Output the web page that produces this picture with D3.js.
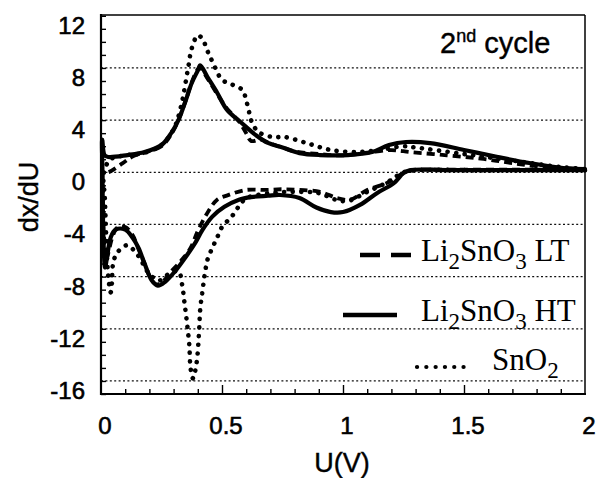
<!DOCTYPE html>
<html>
<head>
<meta charset="utf-8">
<script src="https://cdn.jsdelivr.net/npm/d3@7"></script>
<style>
  body { margin: 0; background: #fff; }
  text { fill: #000; }
</style>
</head>
<body>
<svg id="chart" width="599" height="478"></svg>
<script>
// values: [U (V), dx/dU]
// Li2SnO3 HT (solid) - discharge branch goes 2 -> 0, charge branch 0 -> 2
const htLower = [[2.0,0.17],[1.7,0.17],[1.43,0.17],[1.28,0.17],[1.25,-0.06],[1.21,-0.83],[1.14,-1.6],[1.07,-2.5],
  [1.0,-3.05],[0.95,-3.05],[0.89,-2.7],[0.82,-1.97],[0.74,-1.74],[0.69,-1.8],[0.62,-1.9],[0.57,-2.1],[0.51,-2.65],
  [0.46,-3.4],[0.42,-4.4],[0.39,-5.4],[0.35,-6.5],[0.31,-7.5],[0.265,-8.4],[0.235,-8.7],[0.21,-8.3],[0.18,-7.0],
  [0.155,-5.8],[0.13,-5.0],[0.10,-4.4],[0.06,-4.4],[0.04,-5.0],[0.025,-6.5],[0.017,-7.3],[0.01,-5.0],[0.006,0],[0.005,2.5]];
const htUpper = [[0.005,2.5],[0.015,1.3],[0.03,1.17],[0.11,1.32],[0.18,1.55],[0.25,2.09],[0.29,3.0],[0.32,4.0],
  [0.35,5.5],[0.375,6.85],[0.40,7.8],[0.41,8.2],[0.44,7.3],[0.48,6.1],[0.52,4.8],[0.58,3.8],[0.64,2.85],[0.69,2.25],
  [0.75,1.9],[0.82,1.47],[0.905,1.32],[1.02,1.32],[1.12,1.55],[1.19,2.09],[1.26,2.32],[1.36,2.24],[1.50,1.71],
  [1.64,1.17],[1.77,0.71],[1.91,0.33],[2.0,0.25]];

// Li2SnO3 LT (dashed)
const ltLower = [[2.0,0.2],[1.7,0.2],[1.4,0.2],[1.28,0.15],[1.25,-0.06],[1.18,-0.83],[1.10,-1.36],[1.03,-2.1],
  [0.975,-1.97],[0.905,-1.5],[0.82,-1.35],[0.75,-1.3],[0.68,-1.35],[0.60,-1.35],[0.525,-1.75],[0.48,-2.1],[0.44,-3.1],
  [0.40,-4.5],[0.37,-5.8],[0.33,-6.8],[0.29,-7.6],[0.26,-8.3],[0.23,-8.6],[0.21,-8.3],[0.18,-7.0],[0.155,-5.9],
  [0.13,-4.8],[0.10,-4.2],[0.07,-4.2],[0.05,-4.8],[0.03,-6.2],[0.02,-6.8],[0.012,-5.0],[0.008,-1.5],[0.01,0]];
const ltUpper = [[0.01,0],[0.03,0],[0.09,0.7],[0.13,1.2],[0.18,1.5],[0.25,2.0],[0.29,2.9],[0.32,4.0],[0.35,5.5],
  [0.375,6.9],[0.40,7.9],[0.41,8.0],[0.44,7.2],[0.48,6.0],[0.52,4.9],[0.57,3.9],[0.60,3.0],[0.62,2.4],[0.66,2.5],
  [0.70,2.2],[0.75,1.9],[0.80,1.6],[0.90,1.4],[1.0,1.3],[1.10,1.5],[1.20,1.7],[1.28,1.55],[1.43,1.3],[1.57,1.05],
  [1.70,0.7],[1.84,0.4],[2.0,0.25]];

// SnO2 (dotted)
const snLower = [[2.0,0.15],[1.6,0.15],[1.3,0.15],[1.25,0],[1.18,-0.8],[1.10,-1.5],[1.02,-2.2],[0.97,-2.1],
  [0.90,-1.6],[0.80,-1.5],[0.70,-1.6],[0.60,-2.0],[0.57,-2.6],[0.54,-3.4],[0.50,-4.2],[0.48,-5.0],[0.46,-5.8],
  [0.44,-6.7],[0.43,-7.7],[0.42,-9.0],[0.41,-10.5],[0.405,-12.3],[0.395,-14.6],[0.38,-15.8],[0.37,-15.0],
  [0.365,-13.3],[0.355,-11.5],[0.345,-10.0],[0.335,-8.6],[0.32,-7.6],[0.28,-7.8],[0.24,-8.3],[0.20,-7.8],
  [0.15,-6.3],[0.107,-5.6],[0.066,-6.2],[0.05,-7.0],[0.045,-8.5],[0.04,-9.2],[0.03,-8.0],[0.016,-2.0],[0.012,0]];
const snUpper = [[0.012,0],[0.04,1.0],[0.10,1.3],[0.18,1.5],[0.25,2.1],[0.30,3.3],[0.33,5.0],[0.36,8.0],
  [0.375,9.5],[0.40,10.5],[0.42,10.2],[0.44,9.3],[0.46,8.5],[0.50,7.1],[0.545,6.7],[0.585,6.3],[0.60,5.5],
  [0.61,4.8],[0.62,4.0],[0.65,3.1],[0.71,2.7],[0.76,2.7],[0.85,2.24],[0.95,1.71],[1.06,1.55],[1.15,1.71],
  [1.25,2.0],[1.30,1.9],[1.50,1.4],[1.70,0.9],[1.90,0.4],[2.0,0.25]];

const yTickLabels = [12, 8, 4, 0, -4, -8, -12, -16];
const yGridValues = [8, 4, 0, -4, -8, -12, -16];
const xTickLabels = [0, 0.5, 1, 1.5, 2];

const svg = d3.select("#chart");

const x = d3.scaleLinear().domain([0, 2]).range([101, 585]);
const y = d3.scaleLinear().domain([-17, 12.06]).range([394, 15]);

// dotted grid lines
svg.append("g").selectAll("line")
  .data(yGridValues)
  .enter().append("line")
  .attr("x1", x(0)).attr("x2", x(2))
  .attr("y1", d => y(d)).attr("y2", d => y(d))
  .attr("stroke", "#111").attr("stroke-width", 1.2)
  .attr("stroke-dasharray", "2,2.4");

// inward ticks, every 1 on y, every 0.1 on x
const yAxis = d3.axisLeft(y).tickValues(d3.range(-17, 13)).tickSize(-5).tickFormat("");
svg.append("g").attr("transform", `translate(${x(0)},0)`).call(yAxis)
  .call(g => g.select(".domain").remove())
  .selectAll("line").attr("stroke", "#000").attr("stroke-width", 1.4);

const xMinor = d3.range(1, 20).map(i => i / 10).filter(v => Math.abs(v * 2 - Math.round(v * 2)) > 1e-6);
svg.append("g").attr("transform", `translate(0,${y(-17)})`)
  .call(d3.axisBottom(x).tickValues(xMinor).tickSize(-5).tickFormat(""))
  .call(g => g.select(".domain").remove())
  .selectAll("line").attr("stroke", "#000").attr("stroke-width", 1.4);
svg.append("g").attr("transform", `translate(0,${y(-17)})`)
  .call(d3.axisBottom(x).tickValues([0.5, 1, 1.5]).tickSize(-9).tickFormat(""))
  .call(g => g.select(".domain").remove())
  .selectAll("line").attr("stroke", "#000").attr("stroke-width", 1.4);

// curves
const line = d3.line()
  .x(d => x(d[0]))
  .y(d => y(d[1]))
  .curve(d3.curveCatmullRom.alpha(0.5));

const series = [
  { name: "SnO2", pts: snLower.concat(snUpper.slice(1)), dash: "0.1,8.5", width: 4.6, cap: "round" },
  { name: "LT", pts: ltLower.concat(ltUpper.slice(1)), dash: "8,5", width: 3.8, cap: "butt" },
  { name: "HT", pts: htLower.concat(htUpper.slice(1)), dash: null, width: 4.2, cap: "round" }
];

svg.append("g").selectAll("path")
  .data(series)
  .enter().append("path")
  .attr("d", d => line(d.pts))
  .attr("fill", "none")
  .attr("stroke", "#000")
  .attr("stroke-width", d => d.width)
  .attr("stroke-linecap", d => d.cap)
  .attr("stroke-linejoin", "round")
  .attr("stroke-dasharray", d => d.dash);

// frame
svg.append("line").attr("x1", x(0)).attr("x2", x(2)).attr("y1", y(12.06)).attr("y2", y(12.06))
  .attr("stroke", "#000").attr("stroke-width", 1.5);
svg.append("line").attr("x1", x(2)).attr("x2", x(2)).attr("y1", y(12.06)).attr("y2", y(-17))
  .attr("stroke", "#000").attr("stroke-width", 1.5);
svg.append("line").attr("x1", x(0)).attr("x2", x(0)).attr("y1", y(12.06) - 1).attr("y2", y(-17) + 1)
  .attr("stroke", "#000").attr("stroke-width", 2.2);
svg.append("line").attr("x1", x(0) - 1).attr("x2", x(2) + 1).attr("y1", y(-17)).attr("y2", y(-17))
  .attr("stroke", "#000").attr("stroke-width", 2.2);

// tick labels (a thin stroke thickens the glyphs like the scanned original)
const sans = "Arial, 'Liberation Sans', Helvetica, sans-serif";
svg.append("g").selectAll("text")
  .data(yTickLabels)
  .enter().append("text")
  .attr("x", 85)
  .attr("y", d => y(d) + 18)
  .attr("text-anchor", "end")
  .attr("font-family", sans)
  .attr("font-size", 24)
  .attr("stroke", "#000").attr("stroke-width", 0.6)
  .text(d => d);

svg.append("g").selectAll("text")
  .data(xTickLabels)
  .enter().append("text")
  .attr("x", d => x(d) + 4)
  .attr("y", 434)
  .attr("text-anchor", "middle")
  .attr("font-family", sans)
  .attr("font-size", 24)
  .attr("stroke", "#000").attr("stroke-width", 0.6)
  .text(d => d);

// axis titles
svg.append("text")
  .attr("x", 342).attr("y", 472)
  .attr("text-anchor", "middle")
  .attr("font-family", sans).attr("font-size", 27)
  .attr("stroke", "#000").attr("stroke-width", 0.4)
  .text("U(V)");
svg.append("text")
  .attr("transform", "translate(38,197) rotate(-90)")
  .attr("text-anchor", "middle")
  .attr("font-family", sans).attr("font-size", 27)
  .attr("stroke", "#000").attr("stroke-width", 0.4)
  .text("dx/dU");

// "2nd cycle"
const cyc = svg.append("text")
  .attr("x", 440).attr("y", 53)
  .attr("font-family", sans).attr("font-size", 29)
  .attr("stroke", "#000").attr("stroke-width", 0.4);
cyc.append("tspan").text("2");
cyc.append("tspan").attr("font-size", 18).attr("dy", -11).text("nd");
cyc.append("tspan").attr("dy", 11).text(" cycle");

// legend
const serif = "'Times New Roman', 'Liberation Serif', Times, serif";
function formula(g, xPos, yPos, parts) {
  const t = g.append("text").attr("x", xPos).attr("y", yPos)
    .attr("font-family", serif).attr("font-size", 31);
  let shift = 0;
  parts.forEach(p => {
    const target = p.sub ? 8 : 0;
    t.append("tspan")
      .attr("dy", target - shift)
      .attr("font-size", p.sub ? 23 : null)
      .text(p.s);
    shift = target;
  });
}
const legend = svg.append("g");
legend.append("line").attr("x1", 360).attr("x2", 411).attr("y1", 255).attr("y2", 255)
  .attr("stroke", "#000").attr("stroke-width", 4.5).attr("stroke-dasharray", "20,11");
formula(legend, 421, 261, [{ s: "Li" }, { s: "2", sub: true }, { s: "SnO" }, { s: "3", sub: true }, { s: " LT" }]);

legend.append("line").attr("x1", 343).attr("x2", 397).attr("y1", 315).attr("y2", 315)
  .attr("stroke", "#000").attr("stroke-width", 4.5);
formula(legend, 421, 321, [{ s: "Li" }, { s: "2", sub: true }, { s: "SnO" }, { s: "3", sub: true }, { s: " HT" }]);

legend.append("line").attr("x1", 417).attr("x2", 464).attr("y1", 367).attr("y2", 367)
  .attr("stroke", "#000").attr("stroke-width", 4.2).attr("stroke-linecap", "round")
  .attr("stroke-dasharray", "0.1,9.2");
formula(legend, 492, 370, [{ s: "SnO" }, { s: "2", sub: true }]);
</script>
</body>
</html>
